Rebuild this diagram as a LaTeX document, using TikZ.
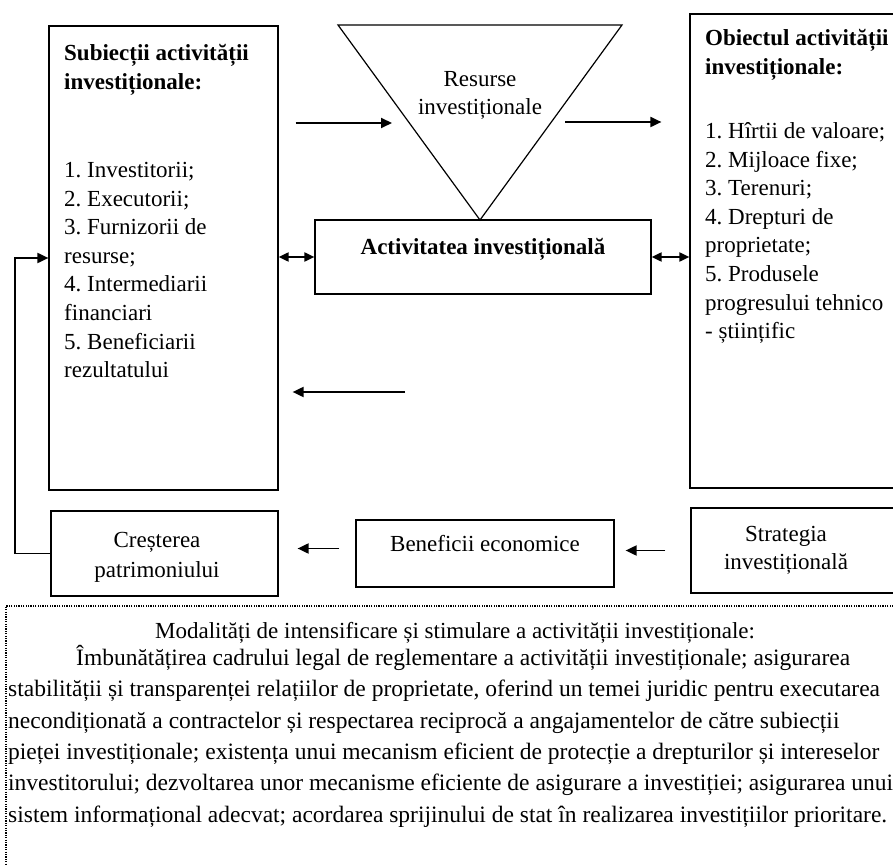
\documentclass[tikz,border=0pt]{standalone}
\usepackage{fontspec}
\setmainfont{Liberation Serif}
\usetikzlibrary{arrows.meta,positioning}

\tikzset{
    box/.style={draw, line width=1.2pt, inner sep=0pt},
    arr/.style={-{Triangle[length=11pt,width=10pt]}, line width=1.9pt},
    darr/.style={{Triangle[length=10pt,width=9pt]}-{Triangle[length=10pt,width=9pt]}, line width=1.9pt},
    txt/.style={font=\fontsize{23}{28.6}\selectfont, inner sep=0pt, align=left},
    lbl/.style={font=\fontsize{23}{30}\selectfont, inner sep=0pt, align=center},
    note/.style={font=\fontsize{23.5}{31.4}\selectfont, inner sep=0pt, align=left},
}

\begin{document}
\frenchspacing
\begin{tikzpicture}[x=1pt, y=-1pt]
    \useasboundingbox (0,0) rectangle (893,866);
    \clip (0,0) rectangle (893,866);

    % upper part
    \node (subj) [box, minimum width=229pt, minimum height=464pt] at (163.5,258) {};
    \node (subjtxt) [txt, anchor=north west] at (64,44) {\textbf{Subiecții activității}\\\textbf{investiționale:}\\[59.8pt]
        1. Investitorii;\\2. Executorii;\\3. Furnizorii de\\resurse;\\4. Intermediarii\\financiari\\5. Beneficiarii\\rezultatului};

    \draw[line width=1.2pt] (338,25) -- (622,25) -- (480,220) -- cycle;
    \node (res) [lbl, font=\fontsize{23}{28}\selectfont] at (480,95) {Resurse\\investiționale};

    \node (act) [box, minimum width=336pt, text height=35pt, text depth=39pt, font=\bfseries\fontsize{23}{28.6}\selectfont] at (483,257) {Activitatea investițională};

    \node (obj) [box, minimum width=220pt, minimum height=474pt] at (800,251) {};
    \node (objtxt) [txt, anchor=north west] at (705,29) {\textbf{Obiectul activității}\\\textbf{investiționale:}\\[35.8pt]
        1. Hîrtii de valoare;\\2. Mijloace fixe;\\3. Terenuri;\\4. Drepturi de\\proprietate;\\5. Produsele\\progresului tehnico\\- științific};

    % lower part
    \node (grow) [box, minimum width=227pt, minimum height=85pt] at (164.5,553.5) {};
    \node (growtxt) [lbl] at (157,557) {Creșterea\\patrimoniului};
    \node (benef) [box, minimum width=258pt, text height=31pt, text depth=36pt, font=\fontsize{23}{30}\selectfont] at (485,553.5) {Beneficii economice};
    \node (strat) [box, minimum width=220pt, minimum height=85pt] at (801,550.5) {};
    \node (strattxt) [lbl, font=\fontsize{23}{28}\selectfont] at (786,550) {Strategia\\investițională};

    % connectors
    \coordinate (resin) at (392,123);
    \coordinate (resout) at (565,122);
    \coordinate (back) at (405,392);
    \draw[arr, shorten <=17pt] (subj.east |- resin) -- (resin);
    \draw[arr, shorten >=28pt] (resout) -- (resout -| obj.west);
    \draw[darr] (act.west) -- (act.west -| subj.east);
    \draw[darr] (act.east) -- (act.east -| obj.west);
    \draw[arr, shorten >=14pt] (back) -- (back -| subj.east);
    \draw[arr, shorten <=16pt, shorten >=19pt] ([yshift=5pt]benef.west) -- ([yshift=5pt]benef.west -| grow.east);
    \draw[arr, shorten <=25pt, shorten >=11pt] (strat.west) -- (strat.west -| benef.east);
    \draw[arr] (grow.west) -- ++(-35,0) |- (subj.west);

    % dotted frame
    \node (modal) [draw, line width=1.2pt, dash pattern=on 1.2pt off 1.2pt, inner sep=0pt, minimum width=920pt, minimum height=300pt] at (466,756) {};
    \node (modtitle) [note, font=\fontsize{23}{30}\selectfont] at (455,633) {Modalități de intensificare și stimulare a activității investiționale:};
    \node (modbody) [note, anchor=north west] at (8,645) {\hspace*{68pt}Îmbunătățirea cadrului legal de reglementare a activității investiționale; asigurarea\\
        stabilității și transparenței relațiilor de proprietate, oferind un temei juridic pentru executarea\\
        necondiționată a contractelor și respectarea reciprocă a angajamentelor de către subiecții\\
        pieței investiționale; existența unui mecanism eficient de protecție a drepturilor și intereselor\\
        investitorului; dezvoltarea unor mecanisme eficiente de asigurare a investiției; asigurarea unui\\
        sistem informațional adecvat; acordarea sprijinului de stat în realizarea investițiilor prioritare.};
\end{tikzpicture}
\end{document}
